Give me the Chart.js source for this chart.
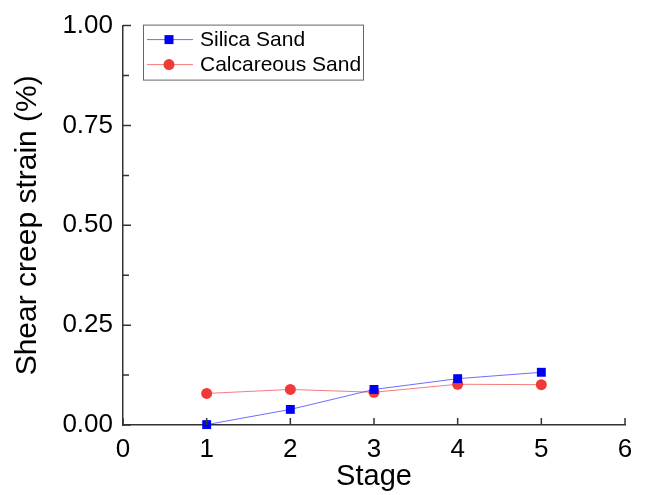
<!DOCTYPE html>
<html>
<head>
<meta charset="utf-8">
<script src="https://cdn.jsdelivr.net/npm/chart.js@4/dist/chart.umd.min.js"></script>
<style>
  html, body { margin: 0; padding: 0; background: #fff; }
  #wrap { width: 646px; height: 495px; }
</style>
</head>
<body>
<div id="wrap"><canvas id="c" width="646" height="495"></canvas></div>
<script>
// data
const stages = [1, 2, 3, 4, 5];
const silicaSand = [0.001, 0.039, 0.089, 0.116, 0.132];
const calcareousSand = [0.079, 0.089, 0.082, 0.102, 0.101];
const xTicks = [0, 1, 2, 3, 4, 5, 6];
const yTicks = [0, 0.25, 0.5, 0.75, 1.0];

const FONT = 'Arial, "Liberation Sans", sans-serif';
const AXIS_COLOR = '#333';

const toPoints = (ys) => stages.map((s, i) => ({ x: s, y: ys[i] }));

// inward tick marks (majors + minors on y)
const tickMarks = {
    id: 'tickMarks',
    afterDatasetsDraw(chart) {
        const { ctx, chartArea, scales } = chart;
        ctx.save();
        ctx.strokeStyle = AXIS_COLOR;
        ctx.lineWidth = 1.5;
        ctx.beginPath();
        yTicks.forEach(v => {
            const py = scales.y.getPixelForValue(v);
            ctx.moveTo(chartArea.left, py);
            ctx.lineTo(chartArea.left + 8, py);
        });
        for (let i = 0; i < yTicks.length - 1; i++) {
            const py = scales.y.getPixelForValue((yTicks[i] + yTicks[i + 1]) / 2);
            ctx.moveTo(chartArea.left, py);
            ctx.lineTo(chartArea.left + 6, py);
        }
        xTicks.forEach(v => {
            const px = scales.x.getPixelForValue(v);
            ctx.moveTo(px, chartArea.bottom);
            ctx.lineTo(px, chartArea.bottom - 7);
        });
        ctx.stroke();
        ctx.restore();
    }
};

// boxed legend inside the plot, top-left
const boxLegend = {
    id: 'boxLegend',
    afterDraw(chart) {
        const { ctx, chartArea } = chart;
        const left = chartArea.left + 20;
        const top = chartArea.top - 1;
        const w = 220, h = 55;
        ctx.save();
        ctx.strokeStyle = '#666';
        ctx.lineWidth = 1;
        ctx.strokeRect(left + 0.5, top + 0.5, w, h);
        ctx.font = '21px ' + FONT;
        ctx.textBaseline = 'middle';
        chart.data.datasets.forEach((ds, i) => {
            const cy = top + 15 + i * 25;
            ctx.strokeStyle = ds.borderColor;
            ctx.lineWidth = 1;
            ctx.beginPath();
            ctx.moveTo(left + 4, cy);
            ctx.lineTo(left + 50, cy);
            ctx.stroke();
            ctx.fillStyle = ds.pointBackgroundColor;
            const mx = left + 26;
            if (ds.pointStyle === 'rect') {
                ctx.fillRect(mx - 4.5, cy - 4.5, 9, 9);
            } else {
                ctx.beginPath();
                ctx.arc(mx, cy, 5.5, 0, Math.PI * 2);
                ctx.fill();
            }
            ctx.fillStyle = '#000';
            ctx.fillText(ds.label, left + 57, cy + 1);
        });
        ctx.restore();
    }
};

new Chart(document.getElementById('c'), {
    type: 'scatter',
    data: {
        datasets: [{
            label: 'Silica Sand',
            data: toPoints(silicaSand),
            showLine: true,
            borderColor: 'rgba(60,60,255,0.75)',
            borderWidth: 1,
            pointStyle: 'rect',
            pointRadius: 6.3,
            pointBackgroundColor: '#0000f0',
            pointBorderWidth: 0,
            clip: false
        }, {
            label: 'Calcareous Sand',
            data: toPoints(calcareousSand),
            showLine: true,
            borderColor: 'rgba(240,70,70,0.7)',
            borderWidth: 1,
            pointStyle: 'circle',
            pointRadius: 5.5,
            pointBackgroundColor: '#f03a3a',
            pointBorderWidth: 0,
            clip: false
        }]
    },
    options: {
        responsive: false,
        animation: false,
        layout: { padding: { left: 0, right: 21, top: 24, bottom: 0 } },
        plugins: {
            legend: { display: false },
            tooltip: { enabled: false }
        },
        scales: {
            x: {
                type: 'linear',
                min: 0, max: 6,
                afterFit: (s) => { s.height = 70; },
                afterBuildTicks: (s) => { s.ticks = xTicks.map(v => ({ value: v })); },
                grid: { display: true, drawOnChartArea: false, drawTicks: false },
                border: { display: true, color: AXIS_COLOR, width: 1.5 },
                ticks: { padding: 9, color: '#000', font: { family: FONT, size: 26 } },
                title: {
                    display: true, text: 'Stage', color: '#000',
                    font: { family: FONT, size: 29 },
                    padding: { top: 0, bottom: 1 }
                }
            },
            y: {
                type: 'linear',
                min: 0, max: 1,
                afterFit: (s) => { s.width = 123; },
                afterBuildTicks: (s) => { s.ticks = yTicks.map(v => ({ value: v })); },
                grid: { display: true, drawOnChartArea: false, drawTicks: false },
                border: { display: true, color: AXIS_COLOR, width: 1.5 },
                ticks: {
                    padding: 10, color: '#000',
                    font: { family: FONT, size: 26 },
                    callback: (v) => Number(v).toFixed(2)
                },
                title: {
                    display: true, text: 'Shear creep strain (%)', color: '#000',
                    font: { family: FONT, size: 30 },
                    padding: { top: 10, bottom: 0 }
                }
            }
        }
    },
    plugins: [tickMarks, boxLegend]
});
</script>
</body>
</html>
